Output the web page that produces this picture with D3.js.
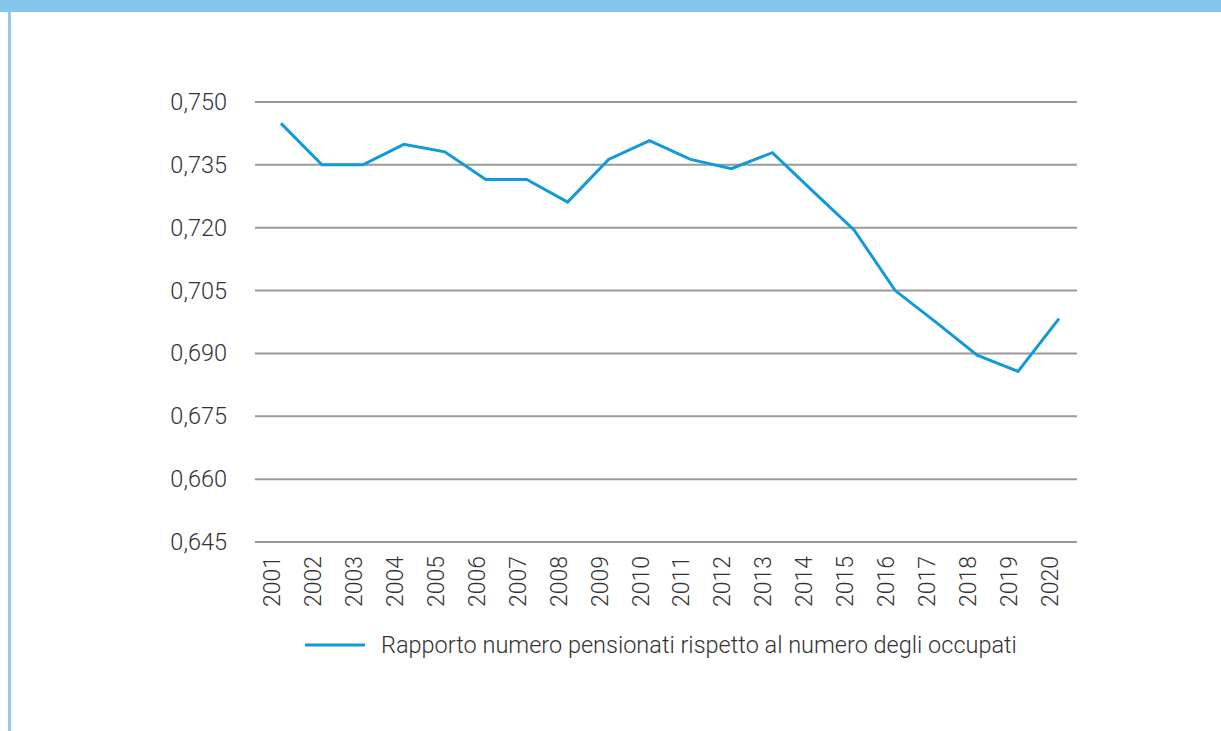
<!DOCTYPE html>
<html>
<head>
<meta charset="utf-8">
<script src="https://cdn.jsdelivr.net/npm/d3@7"></script>
<style>
  html, body { margin: 0; padding: 0; background: #fff; }
  svg { display: block; }
  text { font-family: Roboto, "Liberation Sans", sans-serif; font-weight: 300; fill: #333; }
</style>
</head>
<body>
<div id="chart"></div>
<script>
// data
const years = ["2001","2002","2003","2004","2005","2006","2007","2008","2009","2010",
               "2011","2012","2013","2014","2015","2016","2017","2018","2019","2020"];
const ratio = [0.7449, 0.7350, 0.7350, 0.7399, 0.7381, 0.7315, 0.7315, 0.7261, 0.7363, 0.7408,
               0.7363, 0.7341, 0.7379, 0.7286, 0.7194, 0.7050, 0.6974, 0.6896, 0.6857, 0.6983];
const yTicks = [0.645, 0.660, 0.675, 0.690, 0.705, 0.720, 0.735, 0.750];
const seriesName = "Rapporto numero pensionati rispetto al numero degli occupati";

const W = 1221, H = 731;
const plotLeft = 255, plotRight = 1077;

const svg = d3.select("#chart").append("svg")
  .attr("width", W)
  .attr("height", H);

// frame: blue band on top, thin blue rule on the left
svg.append("rect").attr("x", 0).attr("y", 0).attr("width", W).attr("height", 12).attr("fill", "#86c5ea");
svg.append("rect").attr("x", 8).attr("y", 12).attr("width", 3).attr("height", H - 12).attr("fill", "#8ecbee");

const x = d3.scalePoint().domain(years).range([281, 1059]);
const y = d3.scaleLinear().domain([0.645, 0.750]).range([542, 102]);

// gridlines
svg.append("g")
  .selectAll("line")
  .data(yTicks)
  .join("line")
    .attr("x1", plotLeft)
    .attr("x2", plotRight)
    .attr("y1", d => y(d))
    .attr("y2", d => y(d))
    .attr("stroke", "#9a9a9a")
    .attr("stroke-width", 2);

// y axis labels
const yAxis = d3.axisLeft(y)
  .tickValues(yTicks)
  .tickSize(0)
  .tickPadding(0)
  .tickFormat(d => d3.format(".3f")(d).replace(".", ","));

const gy = svg.append("g")
  .attr("transform", "translate(227,0)")
  .call(yAxis);
gy.select(".domain").remove();
gy.selectAll("text")
  .attr("font-size", 23.5)
  .attr("font-family", null)
  .attr("fill", "#333");

// x axis labels, rotated
const xAxis = d3.axisBottom(x).tickSize(0).tickPadding(0);
const gx = svg.append("g")
  .attr("transform", "translate(0,556)")
  .call(xAxis);
gx.select(".domain").remove();
gx.selectAll("text")
  .attr("font-size", 23)
  .attr("font-family", null)
  .attr("fill", "#333")
  .attr("text-anchor", "end")
  .attr("dy", null)
  .attr("y", 0)
  .attr("transform", "translate(-9,0) rotate(-90)")
  .attr("x", 0)
  .attr("dominant-baseline", "central");

// the line
const line = d3.line()
  .x((d, i) => x(years[i]))
  .y(d => y(d));

svg.append("path")
  .datum(ratio)
  .attr("fill", "none")
  .attr("stroke", "#0f9bd9")
  .attr("stroke-width", 3)
  .attr("stroke-linejoin", "miter")
  .attr("d", line);

// legend
const legend = svg.append("g").attr("transform", "translate(305,645)");
legend.append("line")
  .attr("x1", 0).attr("x2", 60)
  .attr("y1", 0).attr("y2", 0)
  .attr("stroke", "#0f9bd9")
  .attr("stroke-width", 3);
legend.append("text")
  .attr("x", 76)
  .attr("y", 0)
  .attr("dy", "0.35em")
  .attr("font-size", 23.5)
  .text(seriesName);
</script>
</body>
</html>
